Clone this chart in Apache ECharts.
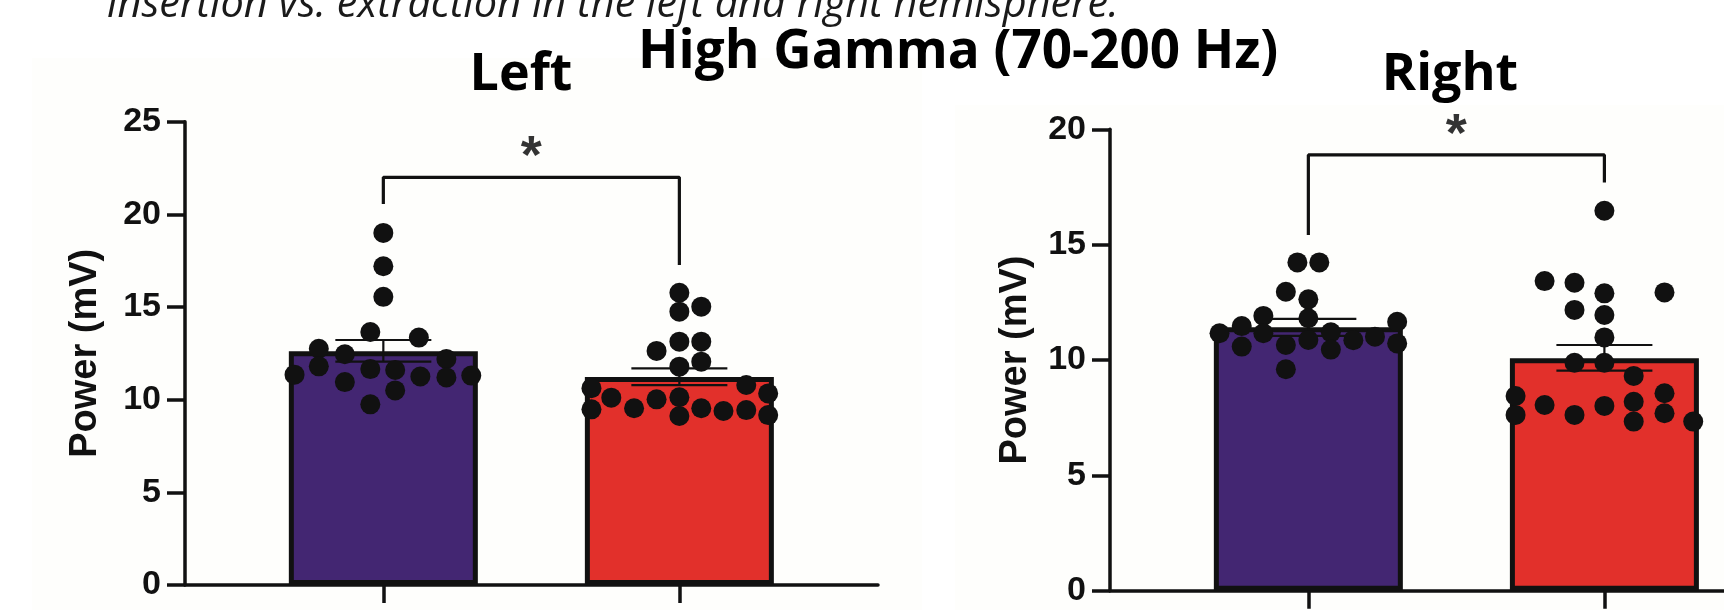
<!DOCTYPE html>
<html><head><meta charset="utf-8">
<script src="https://cdn.jsdelivr.net/npm/echarts@6/dist/echarts.min.js"></script>
<style>html,body{margin:0;padding:0;background:#fff}#c{width:1724px;height:610px}</style>
</head><body><div id="c"></div>
<script>
// ---------- data ----------
const categories = ['Insertion', 'Extraction'];
const catX = [1, 2];
const leftYTicks = [0, 5, 10, 15, 20, 25];
const rightYTicks = [0, 5, 10, 15, 20];

const leftMeans = [12.62, 11.22];
const leftErrLow = [12.05, 10.79];
const leftErrHigh = [13.22, 11.69];
const rightMeans = [11.42, 10.08];
const rightErrLow = [11.05, 9.54];
const rightErrHigh = [11.78, 10.65];

const leftInsertion = [19.0, 17.2, 15.55, 13.65, 13.35, 12.75, 12.45, 11.35, 11.8, 10.95, 11.65, 11.6, 10.5, 9.75, 11.25, 12.2, 11.2, 11.3];
const leftInsertionJitter = [0, 0, 0, -0.044, 0.12, -0.218, -0.13, -0.30, -0.218, -0.13, -0.044, 0.04, 0.04, -0.044, 0.125, 0.213, 0.213, 0.297];
const leftExtraction = [15.77, 15.02, 14.75, 13.13, 13.13, 12.63, 11.78, 12.05, 10.62, 10.11, 9.54, 10.02, 10.13, 9.12, 9.54, 9.39, 9.44, 10.79, 10.34, 9.17, 9.48];
const leftExtractionJitter = [0, 0.074, 0, 0, 0.074, -0.077, 0, 0.074, -0.297, -0.23, -0.153, -0.077, 0, 0, 0.074, 0.149, 0.226, 0.226, 0.30, 0.30, -0.297];
const rightInsertion = [14.23, 14.23, 12.96, 12.63, 11.91, 11.81, 11.47, 11.16, 10.58, 11.16, 10.65, 10.87, 11.2, 10.45, 10.86, 9.6, 11.01, 11.66, 10.72];
const rightInsertionJitter = [-0.037, 0.037, -0.076, 0, -0.152, 0, -0.225, -0.30, -0.225, -0.152, -0.076, 0, 0.076, 0.076, 0.152, -0.076, 0.225, 0.30, 0.30];
const rightExtraction = [16.47, 13.42, 13.35, 12.89, 12.93, 12.17, 11.95, 10.98, 9.88, 9.88, 9.31, 8.44, 7.62, 8.05, 7.62, 8.01, 8.19, 7.33, 8.56, 7.69, 7.33];
const rightExtractionJitter = [0, -0.202, -0.101, 0, 0.203, -0.101, 0, 0, -0.101, 0, 0.099, -0.30, -0.30, -0.202, -0.101, 0, 0.099, 0.099, 0.203, 0.203, 0.30];

// significance brackets: [left leg bottom, bar height, right leg bottom]
const leftBracket = [20.56, 22.0, 17.27];
const rightBracket = [15.42, 18.89, 17.69];
const leftStarY = 23.05;
const rightStarY = 19.72;

// ---------- styles ----------
const INK = '#111';
const barColors = ['#432672', '#e2302b'];
const tickFont = 'Liberation Sans';

function dots(vals, jit, cx) { return vals.map((v, i) => [cx + jit[i], v]); }

function yAxis(gi, ticks) {
  return {
    gridIndex: gi, type: 'value', min: ticks[0], max: ticks[ticks.length - 1], interval: ticks[1] - ticks[0],
    name: 'Power (mV)', nameLocation: 'middle', nameGap: gi === 0 ? 80 : 75,
    nameTextStyle: { fontFamily: tickFont, fontWeight: 'bold', fontSize: 38, color: INK },
    axisLine: { show: true, lineStyle: { color: INK, width: 3.5 } },
    axisTick: { show: true, length: 18, lineStyle: { color: INK, width: 3.5 } },
    axisLabel: { fontFamily: tickFont, fontWeight: 'bold', fontSize: 34, color: INK, margin: 24 },
    splitLine: { show: false }
  };
}
function xAxis(gi, max) {
  return {
    gridIndex: gi, type: 'value', min: 0.33, max: max,
    axisLine: { show: true, onZero: false, lineStyle: { color: INK, width: 3.5 } },
    axisTick: { show: true, customValues: catX, length: 18, lineStyle: { color: INK, width: 3.5 } },
    axisLabel: { show: false }, splitLine: { show: false }
  };
}
function barSeries(gi, means) {
  return {
    type: 'bar', xAxisIndex: gi, yAxisIndex: gi, barWidth: 189, z: 1,
    itemStyle: { borderColor: INK, borderWidth: 5 },
    data: means.map((m, i) => ({ name: categories[i], value: [catX[i], m], itemStyle: { color: barColors[i] } })),
    silent: true
  };
}
function errSeries(gi, lo, hi) {
  return {
    type: 'custom', xAxisIndex: gi, yAxisIndex: gi, z: 2, silent: true,
    data: catX.map((x, i) => [x, lo[i], hi[i]]),
    renderItem: function (params, api) {
      const a = api.coord([api.value(0), api.value(1)]);
      const b = api.coord([api.value(0), api.value(2)]);
      const hw = 48, st = { stroke: INK, lineWidth: 2.2 };
      return { type: 'group', children: [
        { type: 'line', shape: { x1: a[0], y1: a[1], x2: b[0], y2: b[1] }, style: st },
        { type: 'line', shape: { x1: a[0] - hw, y1: a[1], x2: a[0] + hw, y2: a[1] }, style: st },
        { type: 'line', shape: { x1: b[0] - hw, y1: b[1], x2: b[0] + hw, y2: b[1] }, style: st }
      ]};
    }
  };
}
function dotSeries(gi, data) {
  return { type: 'scatter', xAxisIndex: gi, yAxisIndex: gi, z: 3, symbolSize: 20, clip: false, silent: true,
    itemStyle: { color: INK, opacity: 1 }, data: data };
}
function bracketSeries(gi, br) {
  return { type: 'line', xAxisIndex: gi, yAxisIndex: gi, z: 3, symbol: 'none', silent: true, clip: false,
    lineStyle: { color: INK, width: 3.2 },
    data: [[catX[0], br[0]], [catX[0], br[1]], [catX[1], br[1]], [catX[1], br[2]]] };
}
function starSeries(gi, y) {
  return { type: 'scatter', xAxisIndex: gi, yAxisIndex: gi, z: 3, symbolSize: 1, clip: false, silent: true,
    itemStyle: { color: 'rgba(0,0,0,0)' },
    label: { show: true, position: 'inside', formatter: '*', fontFamily: tickFont, fontWeight: 'bold', fontSize: 54, color: '#000' },
    data: [[(catX[0] + catX[1]) / 2, y]] };
}

const chart = echarts.init(document.getElementById('c'), null, { renderer: 'canvas' });
chart.setOption({
  backgroundColor: '#ffffff',
  animation: false,
  grid: [
    { left: 185, top: 121.7, width: 693, height: 463.3 },
    { left: 1110, top: 129.3, width: 614, height: 461.4 }
  ],
  xAxis: [xAxis(0, 2.671), xAxis(1, 2.404)],
  yAxis: [yAxis(0, leftYTicks), yAxis(1, rightYTicks)],
  graphic: [
    { type: 'rect', z: -10, shape: { x: 32, y: 58, width: 890, height: 560 }, style: { fill: '#fefefc' } },
    { type: 'rect', z: -10, shape: { x: 955, y: 105, width: 780, height: 510 }, style: { fill: '#fefefc' } },
    { type: 'text', z: 5, style: { x: 107, y: -15, text: 'insertion vs. extraction in the left and right hemisphere.', font: 'italic 41.5px "Open Sans"', fill: '#1a1a1a' } },
    { type: 'text', z: 5, style: { x: 638, y: 26, text: 'High Gamma (70-200 Hz)', font: 'bold 53px "Open Sans"', fill: '#000' } },
    { type: 'text', z: 5, style: { x: 521, y: 49, text: 'Left', textAlign: 'center', font: 'bold 52px "Open Sans"', fill: '#000' } },
    { type: 'text', z: 5, style: { x: 1450, y: 49, text: 'Right', textAlign: 'center', font: 'bold 52px "Open Sans"', fill: '#000' } }
  ],
  series: [
    barSeries(0, leftMeans), errSeries(0, leftErrLow, leftErrHigh),
    dotSeries(0, dots(leftInsertion, leftInsertionJitter, catX[0]).concat(dots(leftExtraction, leftExtractionJitter, catX[1]))),
    bracketSeries(0, leftBracket), starSeries(0, leftStarY),
    barSeries(1, rightMeans), errSeries(1, rightErrLow, rightErrHigh),
    dotSeries(1, dots(rightInsertion, rightInsertionJitter, catX[0]).concat(dots(rightExtraction, rightExtractionJitter, catX[1]))),
    bracketSeries(1, rightBracket), starSeries(1, rightStarY)
  ]
});
</script></body></html>
